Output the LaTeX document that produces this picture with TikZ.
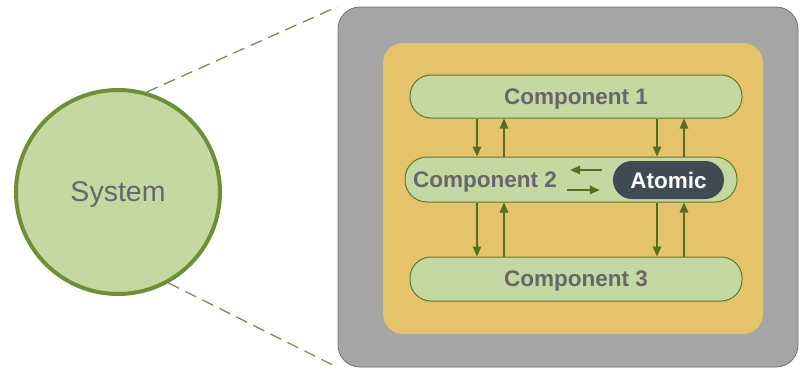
\documentclass[tikz,border=0pt]{standalone}
\usepackage{fontspec}
\setmainfont{Liberation Sans}
\usetikzlibrary{arrows.meta}
\definecolor{pillfill}{HTML}{C4D8A2}
\definecolor{pilldraw}{HTML}{5E7A2A}
\definecolor{arrowc}{HTML}{55701F}
\definecolor{circdraw}{HTML}{6E9035}
\definecolor{graybox}{HTML}{A5A5A5}
\definecolor{grayline}{HTML}{6B747A}
\definecolor{yellowbox}{HTML}{E5C36A}
\definecolor{txtgray}{HTML}{66666B}
\definecolor{atomfill}{HTML}{3E4B53}
\definecolor{dashc}{HTML}{7A8C55}
\tikzset{
  lbl/.style={font=\fontsize{22.5}{26}\selectfont\bfseries, text depth=0pt},
  pill/.style={draw=pilldraw, line width=1pt, fill=pillfill, rounded corners=21pt,
    minimum width=332pt, inner sep=0pt, lbl, text=txtgray},
  arr/.style={draw=arrowc, line width=1.5pt, -{Triangle[length=10pt,width=8.5pt]}},
  zoomline/.style={draw=dashc, line width=1.3pt, dash pattern=on 12pt off 7pt},
}
\begin{document}
\begin{tikzpicture}[x=1pt,y=-1pt]
\useasboundingbox (0,0) rectangle (800,370);
% system circle
\node[circle, draw=circdraw, line width=4pt, fill=pillfill, minimum size=204pt, inner sep=0pt,
  font=\fontsize{28.5}{33}\selectfont, text depth=0pt, text=txtgray] (sys) at (118,192) {System};
% boxes
\node[draw=grayline, line width=0.8pt, fill=graybox, rounded corners=22pt,
  minimum width=460pt, minimum height=360pt, inner sep=0pt] (box) at (568,187) {};
\node[fill=yellowbox, rounded corners=20pt, minimum width=380pt, minimum height=291pt,
  inner sep=0pt] (ybox) at (573,188.5) {};
% zoom lines
\draw[zoomline] (sys.74) -- (box.north west);
\draw[zoomline] (sys.-61) -- (box.south west);
% components
\node[pill, minimum height=43pt] (c1) at (576,96.5) {Component 1};
\node[pill, minimum height=45pt, rounded corners=22pt] (c2) at (571,179.5) {};
\node[pill, minimum height=44pt] (c3) at (576,279) {Component 3};
\node[lbl, text=txtgray, inner sep=2pt, anchor=west] (c2l) at (411,180) {Component 2};
\node[fill=atomfill, rounded corners=19pt, minimum width=111pt, minimum height=38pt, inner sep=0pt,
  lbl, text=white] (atom) at (668.5,180) {Atomic};
% arrow columns
\coordinate (xa) at (477,0);
\coordinate (xb) at (504,0);
\coordinate (xc) at (657,0);
\coordinate (xd) at (684,0);
\draw[arr] (c1.south -| xa) -- (c2.north -| xa);
\draw[arr] (c2.north -| xb) -- (c1.south -| xb);
\draw[arr] (c1.south -| xc) -- (c2.north -| xc);
\draw[arr] (c2.north -| xd) -- (c1.south -| xd);
\draw[arr] (c2.south -| xa) -- (c3.north -| xa);
\draw[arr] (c3.north -| xb) -- (c2.south -| xb);
\draw[arr] (c2.south -| xc) -- (c3.north -| xc);
\draw[arr] (c3.north -| xd) -- (c2.south -| xd);
% horizontal arrows
\draw[arr, shorten <=11pt] ([yshift=10pt]atom.west) -- ([yshift=10pt,xshift=11pt]c2l.east);
\draw[arr, shorten >=13pt] ([yshift=-10pt,xshift=8pt]c2l.east) -- ([yshift=-10pt]atom.west);
\end{tikzpicture}
\end{document}
